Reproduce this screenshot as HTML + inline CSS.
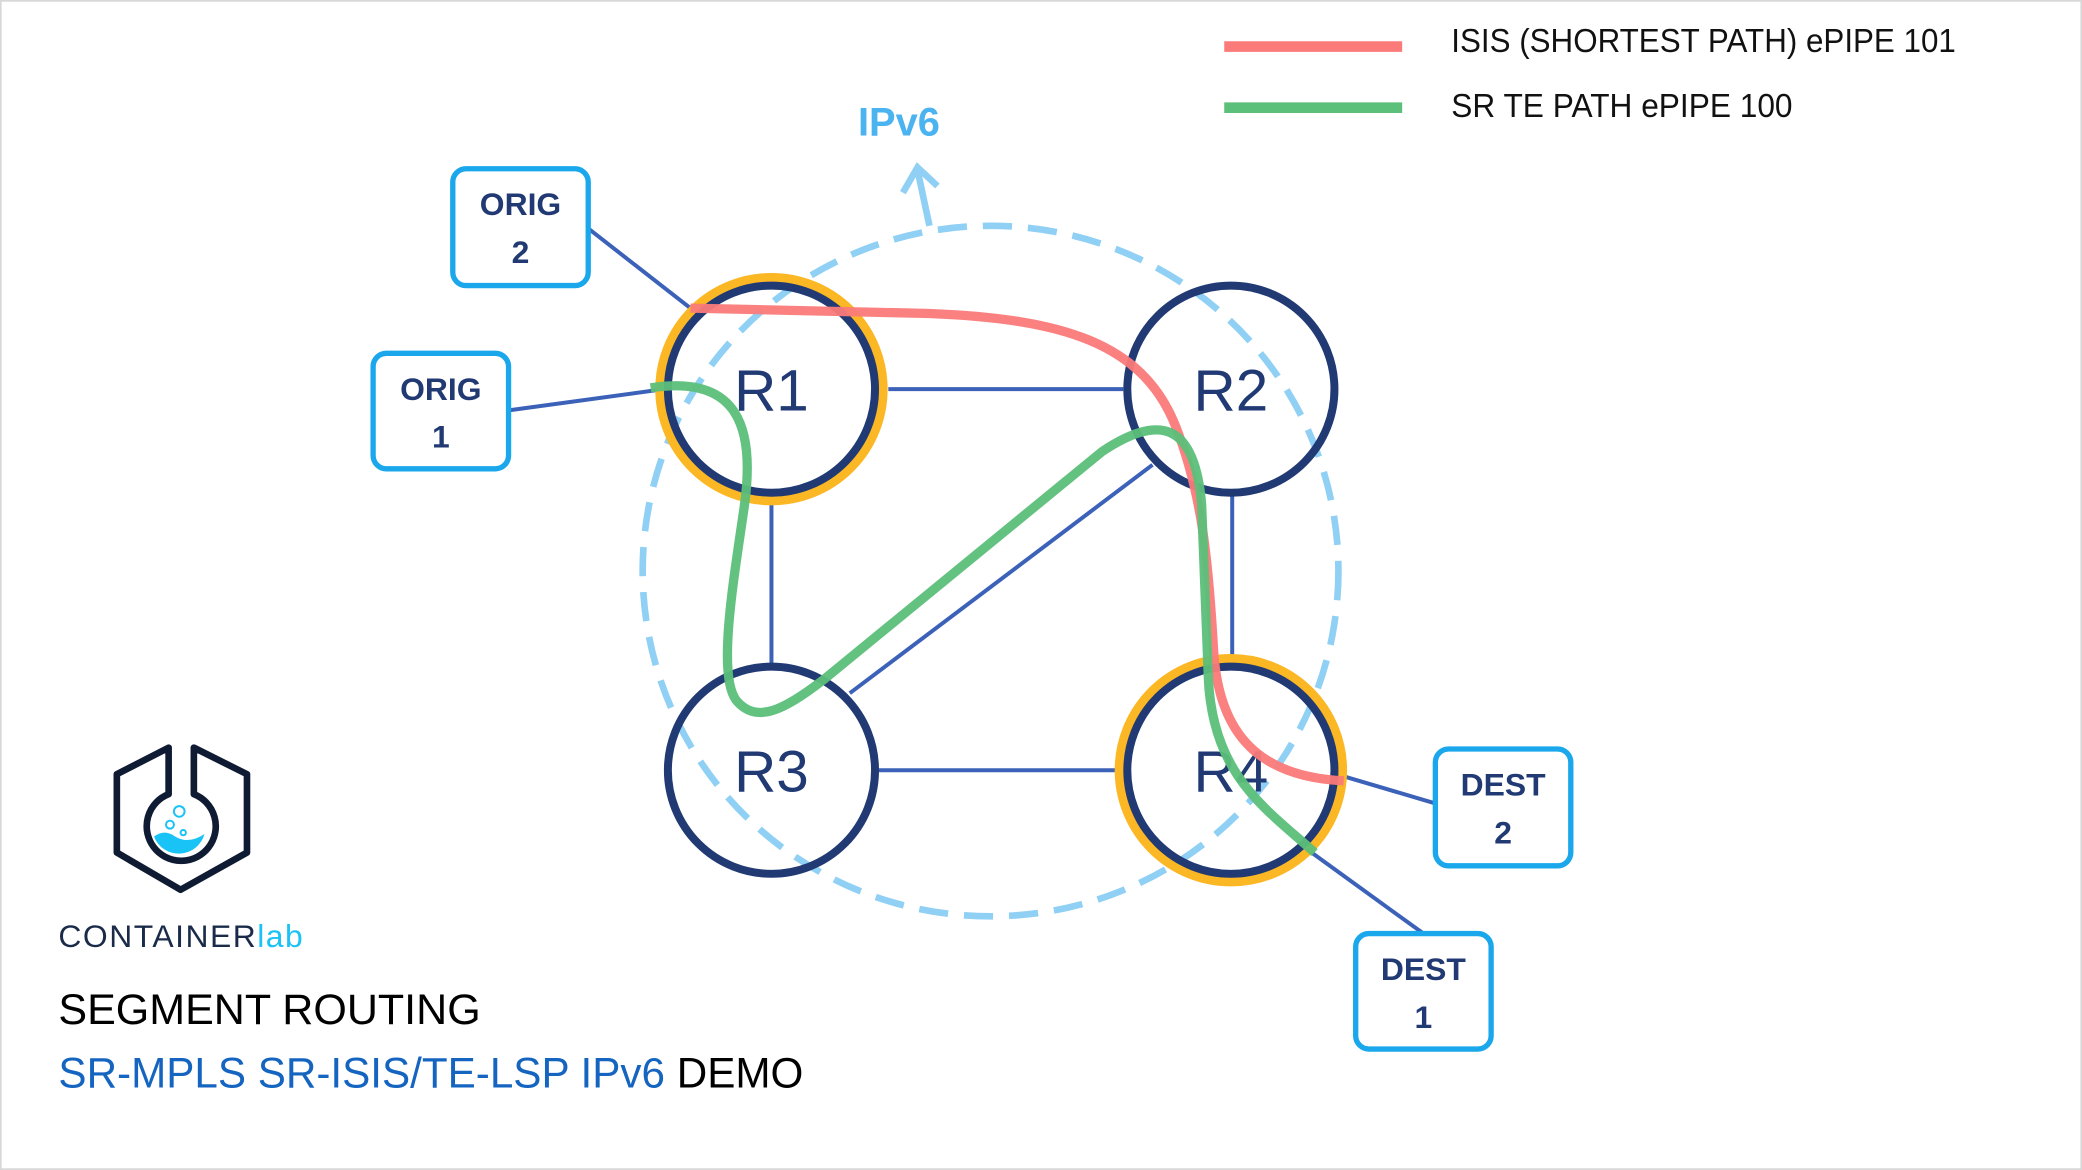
<!DOCTYPE html>
<html><head><meta charset="utf-8"><style>
html,body{margin:0;padding:0;background:#fff;}
svg{display:block;}
text{font-family:"Liberation Sans",sans-serif;}
</style></head><body>
<svg width="2082" height="1170" viewBox="0 0 1568 881" xmlns="http://www.w3.org/2000/svg">
<rect x="0.5" y="0.5" width="1567" height="880" fill="#fff" stroke="#d8d8d8" stroke-width="1.5"/>
<!-- legend -->
<line x1="922" y1="35" x2="1056" y2="35" stroke="#fb7a7a" stroke-width="8"/>
<line x1="922" y1="81" x2="1056" y2="81" stroke="#5cbf7a" stroke-width="8"/>
<text x="1093" y="39" font-size="25" fill="#111" textLength="380" lengthAdjust="spacingAndGlyphs">ISIS (SHORTEST PATH) ePIPE 101</text>
<text x="1093" y="88" font-size="25" fill="#111" textLength="257" lengthAdjust="spacingAndGlyphs">SR TE PATH ePIPE 100</text>
<!-- dashed circle -->
<ellipse cx="746" cy="430" rx="262" ry="260" fill="none" stroke="#8fd0f4" stroke-width="5" stroke-dasharray="22,12"/>
<text x="677" y="102" font-size="30" font-weight="bold" fill="#4ab3f0" text-anchor="middle">IPv6</text>
<path d="M700 170 L691 128 M680 145 L691 126 L706 140" fill="none" stroke="#8fd0f4" stroke-width="5"/>
<!-- links -->
<g stroke="#3b62b8" stroke-width="3" fill="none">
<line x1="669" y1="293" x2="846" y2="293"/>
<line x1="581" y1="372" x2="581" y2="500"/>
<line x1="928" y1="372" x2="928" y2="497"/>
<line x1="662" y1="580" x2="840" y2="580"/>
<line x1="640" y1="522" x2="868" y2="350"/>
<line x1="443" y1="172" x2="520" y2="232"/>
<line x1="383" y1="309" x2="500" y2="293"/>
<line x1="1010" y1="584" x2="1081" y2="605"/>
<line x1="985" y1="640" x2="1072" y2="703"/>
</g>
<!-- orange rings -->
<circle cx="581" cy="293" r="84" fill="none" stroke="#fbb724" stroke-width="7"/>
<circle cx="927" cy="580" r="84" fill="none" stroke="#fbb724" stroke-width="7"/>
<!-- routers -->
<g fill="none" stroke="#213a73" stroke-width="6">
<circle cx="581" cy="293" r="78"/>
<circle cx="927" cy="293" r="78"/>
<circle cx="581" cy="580" r="78"/>
<circle cx="927" cy="580" r="78"/>
</g>
<g font-size="44" fill="#213a73" text-anchor="middle">
<text x="581" y="309">R1</text><text x="927" y="309">R2</text>
<text x="581" y="596">R3</text><text x="927" y="596">R4</text>
</g>
<!-- paths -->
<path d="M520 232 L700 236 C800 240 860 258 885 320 C905 370 910 420 914 490 C918 555 950 585 1012 588" fill="none" stroke="#fb7a7a" stroke-width="7" opacity="0.95"/>
<path d="M490 292 C555 282 570 320 560 385 C552 440 540 510 555 528 C570 545 590 535 620 512 L830 340 C875 310 900 320 905 380 L910 510 C913 585 955 610 990 642" fill="none" stroke="#5cbf7a" stroke-width="7" opacity="0.95"/>
<!-- boxes -->
<g fill="#fff" stroke="#1aa7ec" stroke-width="4">
<rect x="341" y="127" width="102" height="88" rx="10"/>
<rect x="281" y="266" width="102" height="87" rx="10"/>
<rect x="1081" y="564" width="102" height="88" rx="10"/>
<rect x="1021" y="703" width="102" height="87" rx="10"/>
</g>
<g font-size="24" font-weight="bold" fill="#213a73" text-anchor="middle">
<text x="392" y="162">ORIG</text><text x="392" y="198">2</text>
<text x="332" y="301">ORIG</text><text x="332" y="337">1</text>
<text x="1132" y="599">DEST</text><text x="1132" y="635">2</text>
<text x="1072" y="738">DEST</text><text x="1072" y="774">1</text>
</g>
<!-- logo -->
<g fill="none" stroke="#0f1b33" stroke-width="5" stroke-linejoin="round">
<path d="M127 563 L88 583 L88 642 L136 670 L186 642 L186 583 L146 563 L146 598 A26 26 0 1 1 127 598 Z"/>
</g>
<path d="M116 630 Q124 624 132 630 Q142 636 154 628 A20 20 0 0 1 116 630 Z" fill="#1ac3f5"/>
<circle cx="135" cy="611" r="4" fill="none" stroke="#1ac3f5" stroke-width="1.5"/>
<circle cx="128" cy="621" r="3" fill="none" stroke="#1ac3f5" stroke-width="1.5"/>
<circle cx="138" cy="627" r="2" fill="none" stroke="#1ac3f5" stroke-width="1.5"/>
<text x="44" y="713" font-size="24" fill="#1a2b4a" textLength="184" lengthAdjust="spacing">CONTAINER<tspan fill="#1ac3f5">lab</tspan></text>
<text x="44" y="771" font-size="32" fill="#000" textLength="318" lengthAdjust="spacingAndGlyphs">SEGMENT ROUTING</text>
<text x="44" y="819" font-size="32" fill="#1565c0" textLength="561" lengthAdjust="spacingAndGlyphs">SR-MPLS SR-ISIS/TE-LSP IPv6 <tspan fill="#000">DEMO</tspan></text>
</svg>
</body></html>
